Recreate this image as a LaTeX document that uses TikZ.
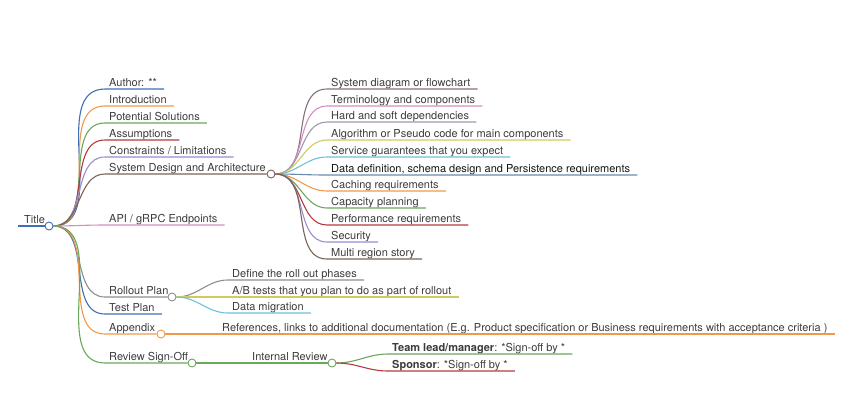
\documentclass[tikz,border=0pt]{standalone}
\usepackage{fontspec}
\setmainfont{TeX Gyre Heros}
\usepackage{tikz}
\usetikzlibrary{positioning}
\definecolor{mmBlue}{HTML}{3F6FB5}
\definecolor{mmOrange}{HTML}{EE9A4A}
\definecolor{mmGreen}{HTML}{6AA85C}
\definecolor{mmRed}{HTML}{B53A3E}
\definecolor{mmPurple}{HTML}{9A8ECF}
\definecolor{mmBrown}{HTML}{7A6458}
\definecolor{mmPink}{HTML}{D98CBE}
\definecolor{mmGrey}{HTML}{8E8E8E}
\definecolor{mmYellow}{HTML}{D2CA5E}
\definecolor{mmCyan}{HTML}{6CC2DA}
\definecolor{mmSteel}{HTML}{6A8AAC}
\definecolor{mmMauve}{HTML}{85707E}
\definecolor{mmLavGrey}{HTML}{A096AE}
\definecolor{mmText}{HTML}{3C3C3C}
\definecolor{mmDark}{HTML}{151515}

\begin{document}
\begin{tikzpicture}[
    x=1pt,
    y=-1pt,
    font=\fontsize{11}{13}\selectfont,
    leaf/.style={
		anchor=south west,
		inner xsep=4pt,
		inner ysep=2pt,
		text height=8pt,
		text depth=0pt,
		text=mmText
	},
	hub/.style={
		circle,
		draw=#1,
		fill=white,
		line width=0.9pt,
		inner sep=0pt,
		minimum size=8pt
	},
	branch/.style={
		draw=#1,
		line width=1.1pt
	}
  ]
 \useasboundingbox (0,0) rectangle (850,418);

% // The root
 \node [hub=mmBlue] (titlehub) at (49,226) {};
 \node [leaf] (title) at (20,226) {Title};
 \draw [branch=mmBlue, line width=2.4pt] ([xshift=-2pt]title.south west) -- (titlehub.west);

% // First level
 \node [leaf] (author) at (105,89) {Author: **};
 \node [leaf] (intro) at (105,106) {Introduction};
 \node [leaf] (potsol) at (105,123) {Potential Solutions};
 \node [leaf] (assump) at (105,140) {Assumptions};
 \node [leaf] (constr) at (105,157) {Constraints / Limitations};
 \node [leaf] (sysdesign) at (105,174) {System Design and Architecture};
 \node [leaf] (api) at (105,225) {API / gRPC Endpoints};
 \node [leaf] (rollout) at (105,297) {Rollout Plan};
 \node [leaf] (testplan) at (105,314) {Test Plan};
 \node [leaf] (appendix) at (105,334) {Appendix};
 \node [leaf] (review) at (105,363) {Review Sign-Off};

 \node [hub=mmBrown] (sdhub) at (271,174) {};
 \node [hub=mmGrey] (rohub) at (172,297) {};
 \node [hub=mmOrange] (aphub) at (161,334) {};
 \node [hub=mmGreen] (rvhub) at (192,363) {};

 \draw [branch=mmBlue] (titlehub.east) to[out=0,in=180] (author.south west) -- ([xshift=3pt]author.south east);
 \draw [branch=mmOrange] (titlehub.east) to[out=0,in=180] (intro.south west) -- ([xshift=3pt]intro.south east);
 \draw [branch=mmGreen] (titlehub.east) to[out=0,in=180] (potsol.south west) -- ([xshift=3pt]potsol.south east);
 \draw [branch=mmRed] (titlehub.east) to[out=0,in=180] (assump.south west) -- ([xshift=3pt]assump.south east);
 \draw [branch=mmPurple] (titlehub.east) to[out=0,in=180] (constr.south west) -- ([xshift=3pt]constr.south east);
 \draw [branch=mmBrown] (titlehub.east) to[out=0,in=180] (sysdesign.south west) -- (sdhub.west);
 \draw [branch=mmPink] (titlehub.east) to[out=0,in=180] (api.south west) -- ([xshift=3pt]api.south east);
 \draw [branch=mmGrey] (titlehub.east) to[out=0,in=180] (rollout.south west) -- (rohub.west);
 \draw [branch=mmBlue] (titlehub.east) to[out=0,in=180] (testplan.south west) -- ([xshift=3pt]testplan.south east);
 \draw [branch=mmOrange] (titlehub.east) to[out=0,in=180] (appendix.south west) -- (aphub.west);
 \draw [branch=mmGreen] (titlehub.east) to[out=0,in=180] (review.south west) -- (rvhub.west);

% // System design and architecture
 \node [leaf] (sysdiag) at (327,89) {System diagram or flowchart};
 \node [leaf] (termin) at (327,106) {Terminology and components};
 \node [leaf] (deps) at (327,122) {Hard and soft dependencies};
 \node [leaf] (algo) at (327,140) {Algorithm or Pseudo code for main components};
 \node [leaf] (service) at (327,157) {Service guarantees that you expect};
 \node [leaf, text=mmDark] (datadef) at (327,175) {Data definition, schema design and Persistence requirements};
 \node [leaf] (caching) at (327,191) {Caching requirements};
 \node [leaf] (capacity) at (327,208) {Capacity planning};
 \node [leaf] (perf) at (327,225) {Performance requirements};
 \node [leaf] (security) at (327,242) {Security};
 \node [leaf] (multireg) at (327,259) {Multi region story};

 \draw [branch=mmMauve] (sdhub.east) to[out=0,in=180] (sysdiag.south west) -- ([xshift=3pt]sysdiag.south east);
 \draw [branch=mmPink] (sdhub.east) to[out=0,in=180] (termin.south west) -- ([xshift=3pt]termin.south east);
 \draw [branch=mmLavGrey] (sdhub.east) to[out=0,in=180] (deps.south west) -- ([xshift=3pt]deps.south east);
 \draw [branch=mmYellow] (sdhub.east) to[out=0,in=180] (algo.south west) -- ([xshift=3pt]algo.south east);
 \draw [branch=mmCyan] (sdhub.east) to[out=0,in=180] (service.south west) -- ([xshift=3pt]service.south east);
 \draw [branch=mmSteel] (sdhub.east) to[out=0,in=180] (datadef.south west) -- ([xshift=3pt]datadef.south east);
 \draw [branch=mmOrange] (sdhub.east) to[out=0,in=180] (caching.south west) -- ([xshift=3pt]caching.south east);
 \draw [branch=mmGreen] (sdhub.east) to[out=0,in=180] (capacity.south west) -- ([xshift=3pt]capacity.south east);
 \draw [branch=mmRed] (sdhub.east) to[out=0,in=180] (perf.south west) -- ([xshift=3pt]perf.south east);
 \draw [branch=mmPurple] (sdhub.east) to[out=0,in=180] (security.south west) -- ([xshift=3pt]security.south east);
 \draw [branch=mmBrown] (sdhub.east) to[out=0,in=180] (multireg.south west) -- ([xshift=3pt]multireg.south east);

% // Rollout plan
 \node [leaf] (phases) at (228,280) {Define the roll out phases};
 \node [leaf] (abtests) at (228,297) {A/B tests that you plan to do as part of rollout};
 \node [leaf] (datamig) at (228,313) {Data migration};

 \draw [branch=mmGrey] (rohub.east) to[out=0,in=180] (phases.south west) -- ([xshift=3pt]phases.south east);
 \draw [branch=mmYellow] (rohub.east) to[out=0,in=180] (abtests.south west) -- ([xshift=3pt]abtests.south east);
 \draw [branch=mmCyan] (rohub.east) to[out=0,in=180] (datamig.south west) -- ([xshift=3pt]datamig.south east);

% // Appendix
 \node [leaf] (refs) at (218,334) {References, links to additional documentation (E.g. Product specification or Business requirements with acceptance criteria )};
 \draw [branch=mmOrange] (aphub.east) -- (refs.south west) -- ([xshift=3pt]refs.south east);

% // Review sign-off
 \node [hub=mmGreen] (irhub) at (332,363) {};
 \node [leaf] (intreview) at (248,363) {Internal Review};
 \draw [branch=mmGreen] (rvhub.east) -- (irhub.west);

 \node [leaf] (teamlead) at (388,354) {\textbf{Team lead/manager}: *Sign-off by *};
 \node [leaf] (sponsor) at (388,371) {\textbf{Sponsor}: *Sign-off by *};

 \draw [branch=mmGreen] (irhub.east) to[out=0,in=180] (teamlead.south west) -- ([xshift=3pt]teamlead.south east);
 \draw [branch=mmRed] (irhub.east) to[out=0,in=180] (sponsor.south west) -- ([xshift=3pt]sponsor.south east);

\end{tikzpicture}
\end{document}
